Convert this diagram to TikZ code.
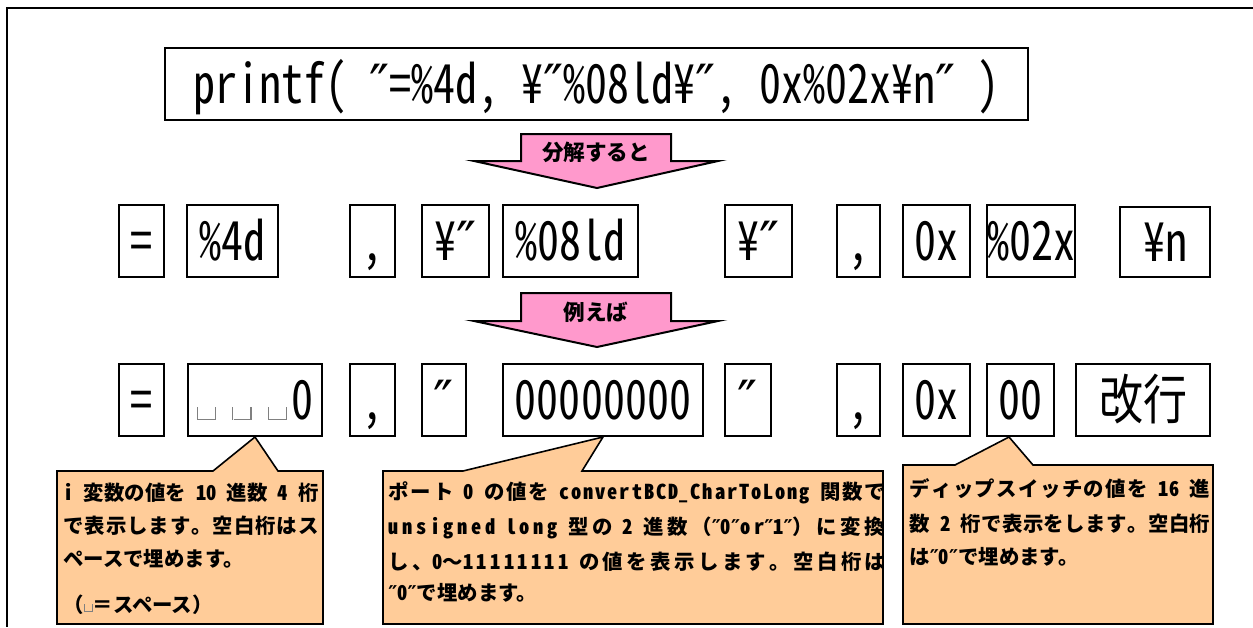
\documentclass[tikz,border=0pt]{standalone}
\usepackage{fontspec}
\setmainfont{Noto Sans CJK JP}
\newfontfamily\cellf{Noto Sans CJK JP}[RawFeature=+hwid, FakeStretch=0.815]
\newfontfamily\hwr{Noto Sans CJK JP}[RawFeature=+hwid]
\newfontfamily\dvs{DejaVu Sans}
\definecolor{arrowpink}{RGB}{255,153,204}
\definecolor{calloutorange}{RGB}{255,204,153}
\newcommand\cellfont{\cellf\fontsize{27}{27}\selectfont}
\newcommand\ctfont{\bfseries\fontsize{10.2}{16}\selectfont}
\newcommand\lat[1]{{\hwr #1}}
\newcommand\dq{{\dvs ″}}
\newcommand\opn[3]{\textcolor{gray}{\rule{#3}{#2}\rule{#1}{#3}\rule{#3}{#2}}}
\newcommand\jg{\hskip 0pt plus 1fil\relax}
\XeTeXinterchartoks 0 0 = {\jg}
\XeTeXinterchartoks 0 1 = {\jg}
\XeTeXinterchartoks 0 2 = {\jg}
\XeTeXinterchartoks 0 3 = {\jg}
\XeTeXinterchartoks 1 0 = {\jg}
\XeTeXinterchartoks 1 1 = {\jg}
\XeTeXinterchartoks 1 2 = {\jg}
\XeTeXinterchartoks 1 3 = {\jg}
\XeTeXinterchartoks 2 0 = {\jg}
\XeTeXinterchartoks 2 1 = {\jg}
\XeTeXinterchartoks 2 2 = {\jg}
\XeTeXinterchartoks 2 3 = {\jg}
\XeTeXinterchartoks 3 0 = {\jg}
\XeTeXinterchartoks 3 1 = {\jg}
\XeTeXinterchartoks 3 2 = {\jg}
\XeTeXinterchartoks 3 3 = {\jg}
\newcommand\justline[2]{\makebox[#1][s]{\XeTeXinterchartokenstate=1 #2}}
\newcommand\cellnode[6]{%
  \node[cell, minimum width={(#3-#2)*0.5pt}, minimum height={(#5-#4)*0.5pt}]
    (#1) at ({(#2+#3)/2},{(#4+#5)/2}) {#6};}
\begin{document}
\begin{tikzpicture}[x=0.5pt,y=-0.5pt,
  cell/.style={draw, line width=1pt, inner sep=0pt, text height=19.8pt, text depth=0pt, font=\cellfont},
  pinkarrow/.style={draw, line width=1pt, fill=arrowpink},
  atext/.style={inner sep=0pt, font=\bfseries\fontsize{10.8}{12}\selectfont},
  callout/.style={draw, line width=0.8pt, fill=calloutorange},
  ctext/.style={anchor=base west, inner sep=0pt, font=\ctfont},
  frame/.style={line width=1pt}]
\fill[white] (0,0) rectangle (1253,627);
\useasboundingbox (0,0) rectangle (1253,627);
\draw[frame] (1253,8) -- (7,8) -- (7,627);

% top statement
\cellnode{top}{165}{1028}{48}{120}{printf( \dq=\%4d, ¥\dq\%08ld¥\dq, 0x\%02x¥n\dq\ )}

% arrow 1
\draw[pinkarrow] (521,134) -- (671,134) -- (671,161) -- (718,161) -- (597,188) -- (474,161) -- (521,161) -- cycle;
\node[atext] (a1) at (596,152) {分解すると};

% row 1
\cellnode{e1}{119}{164}{205}{277}{=}
\cellnode{f1}{187}{278}{205}{277}{\%4d}
\cellnode{c1}{350}{395}{205}{277}{,}
\cellnode{q1}{422}{489}{205}{277}{¥\dq}
\cellnode{l1}{503}{638}{205}{277}{\%08ld}
\cellnode{q2}{725}{792}{205}{277}{¥\dq}
\cellnode{c2}{837}{880}{205}{277}{,}
\cellnode{x1}{903}{970}{205}{277}{0x}
\cellnode{h1}{987}{1075}{205}{277}{\%02x}
\cellnode{n1}{1120}{1210}{207}{277}{¥n}

% arrow 2
\draw[pinkarrow] (521,293) -- (671,293) -- (671,321) -- (718,321) -- (597,347) -- (474,321) -- (521,321) -- cycle;
\node[atext] (a2) at (596,312) {例えば};

% row 2
\cellnode{e2}{119}{164}{364}{436}{=}
\cellnode{s2}{188}{322}{364}{436}{\opn{8.5pt}{6.5pt}{0.6pt}\hspace{8pt}\opn{8.5pt}{6.5pt}{0.6pt}\hspace{8pt}\opn{8.5pt}{6.5pt}{0.6pt}\hspace{2pt}0}
\cellnode{c3}{350}{395}{364}{436}{,}
\cellnode{q3}{422}{466}{364}{436}{\dq}
\cellnode{z2}{503}{703}{364}{436}{00000000}
\cellnode{q4}{725}{771}{364}{436}{\dq}
\cellnode{c4}{837}{880}{364}{436}{,}
\cellnode{x2}{903}{970}{364}{436}{0x}
\cellnode{h2}{987}{1054}{364}{436}{00}
\cellnode{n2}{1076}{1210}{364}{436}{改行}

% callout 1
\draw[callout] (57,471) -- (213,471) -- (s2.south) -- (278,471) -- (323,471) -- (323,624) -- (57,624) -- cycle;
\node[ctext] (t11) at (63,500) {\justline{127.5pt}{\lat{i }変数の値を\lat{ 10 }進数\lat{ 4 }桁}};
\node[ctext] (t12) at (63,533) {\justline{127.5pt}{で表示します。空白桁はス}};
\node[ctext] (t13) at (63,566) {ペースで埋めます。};
\node[ctext] (t14) at (63,612) {（\opn{3.5pt}{4pt}{0.5pt}＝スペース）};

% callout 2
\draw[callout] (383,471) -- (463,471) -- (z2.south) -- (582,471) -- (883,471) -- (883,624) -- (383,624) -- cycle;
\node[ctext] (t21) at (388,499) {\justline{248.5pt}{ポート\lat{ 0 }の値を\lat{ convertBCD\_CharToLong }関数で}};
\node[ctext] (t22) at (388,534) {\justline{248.5pt}{\lat{unsigned long }型の\lat{ 2 }進数（\dq\lat{0}\dq\lat{or}\dq\lat{1}\dq）に変換}};
\node[ctext] (t23) at (388,569) {\justline{248.5pt}{し、\lat{0}～\lat{11111111 }の値を表示します。空白桁は}};
\node[ctext] (t24) at (388,600) {\dq\lat{0}\dq で埋めます。};

% callout 3
\path (h2.south) ++(-11.5,0) coordinate (t3tip);
\draw[callout] (903,465) -- (955,465) -- (t3tip) -- (1033,465) -- (1213,465) -- (1213,624) -- (903,624) -- cycle;
\node[ctext] (t31) at (909,496) {\justline{150.5pt}{ディップスイッチの値を\lat{ 16 }進}};
\node[ctext] (t32) at (909,531) {\justline{150.5pt}{数\lat{ 2 }桁で表示をします。空白桁}};
\node[ctext] (t33) at (909,564) {は\dq\lat{0}\dq で埋めます。};
\end{tikzpicture}
\end{document}
